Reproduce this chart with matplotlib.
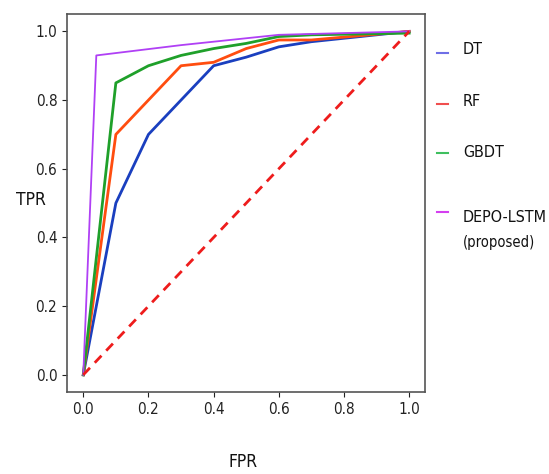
import matplotlib
matplotlib.use("Agg")
import matplotlib.pyplot as plt
from matplotlib.lines import Line2D

# ROC curves of the baseline classifiers and the proposed model
dt_fpr = [0.0, 0.1, 0.2, 0.3, 0.4, 0.5, 0.6, 0.7, 1.0]
dt_tpr = [0.0, 0.5, 0.7, 0.8, 0.9, 0.925, 0.955, 0.97, 1.0]

rf_fpr = [0.0, 0.1, 0.3, 0.4, 0.5, 0.6, 0.7, 1.0]
rf_tpr = [0.0, 0.7, 0.9, 0.91, 0.95, 0.975, 0.975, 1.0]

gbdt_fpr = [0.0, 0.1, 0.2, 0.3, 0.4, 0.5, 0.6, 0.7, 1.0]
gbdt_tpr = [0.0, 0.85, 0.9, 0.93, 0.95, 0.965, 0.985, 0.99, 0.995]

lstm_fpr = [0.0, 0.04, 0.3, 0.6, 1.0]
lstm_tpr = [0.0, 0.93, 0.96, 0.99, 1.0]

chance = [0.0, 1.0]

labels = ["DT", "RF", "GBDT", "DEPO-LSTM"]
ticks = [0.0, 0.2, 0.4, 0.6, 0.8, 1.0]

plt.rcParams["font.family"] = "DejaVu Sans"
plt.rcParams["font.stretch"] = "condensed"

fig = plt.figure(figsize=(5.49, 4.74), dpi=100)
ax = fig.add_axes([0.122, 0.173, 0.653, 0.797])

ax.plot(dt_fpr, dt_tpr, color="#1a3fbf", lw=2.0)
ax.plot(rf_fpr, rf_tpr, color="#ff4d0f", lw=2.0)
ax.plot(gbdt_fpr, gbdt_tpr, color="#1fa02a", lw=2.0)
ax.plot(lstm_fpr, lstm_tpr, color="#b040f5", lw=1.3)
ax.plot(chance, chance, color="#ee1c1c", lw=2.0, ls=(0, (3.5, 2.5)))

ax.set_xticks(ticks)
ax.set_yticks(ticks)
ax.tick_params(labelsize=11, colors="#222222", length=3.5)
for s in ax.spines.values():
    s.set_color("#555555")
    s.set_linewidth(1.2)

fig.text(0.057, 0.578, "TPR", fontsize=12.5, ha="center", va="center", color="#111111")
fig.text(0.443, 0.025, "FPR", fontsize=12.5, ha="center", va="center", color="#111111")

# legend outside the axes, drawn entry by entry
handle_colors = ["#6f6fe6", "#f04f4f", "#3fbf5f", "#d43ff0"]
handle_y = [53, 104, 153, 212]
text_y = [50, 101, 152, 218]
for c, hy, ty, lab in zip(handle_colors, handle_y, text_y, labels):
    fig.add_artist(Line2D([437 / 549, 448 / 549], [1 - hy / 474] * 2, color=c, lw=1.5))
    fig.text(463 / 549, 1 - ty / 474, lab, fontsize=11.5, ha="left", va="center",
             color="#111111")
fig.text(463 / 549, 1 - 243 / 474, "(proposed)", fontsize=10.5, ha="left", va="center",
         color="#111111")

fig.savefig("out.png", dpi=100)
